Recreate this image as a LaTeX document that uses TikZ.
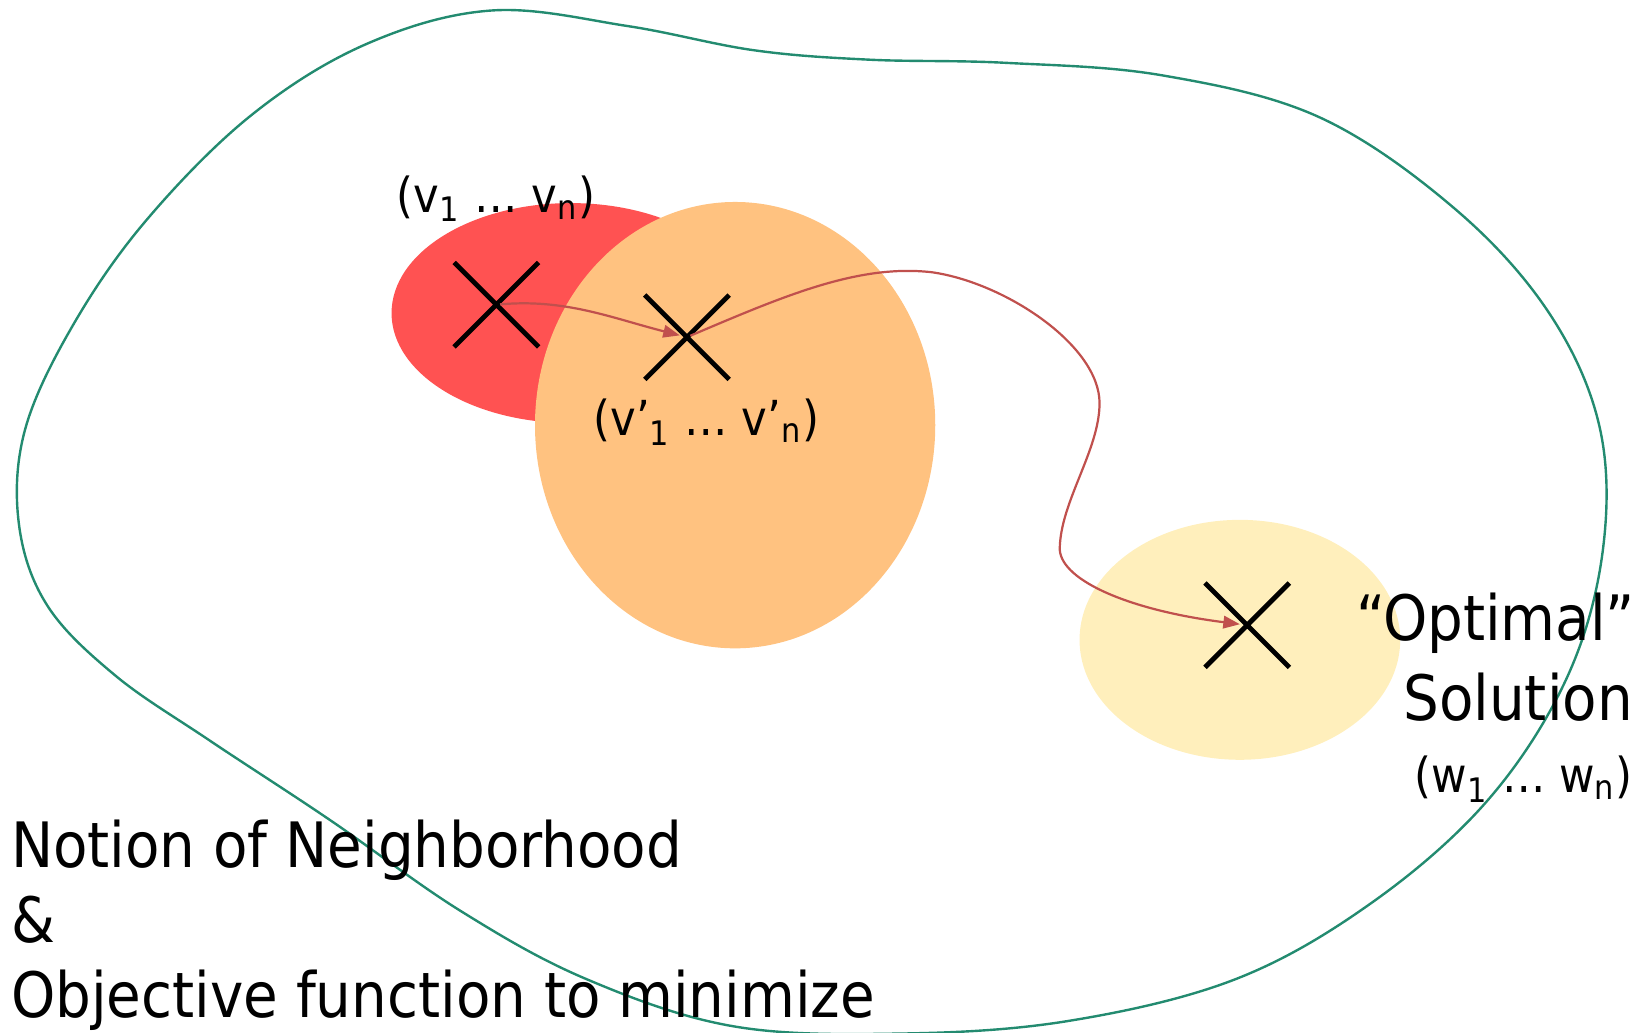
\documentclass[tikz,border=0pt]{standalone}
\usepackage{fontspec}
\setmainfont{DejaVu Sans Condensed}
\usepackage{tikz}
\usetikzlibrary{arrows.meta,shapes.misc}
\definecolor{nbRed}{RGB}{255,82,82}
\definecolor{nbOrange}{RGB}{255,194,128}
\definecolor{nbYellow}{RGB}{255,239,188}
\definecolor{nbGreen}{RGB}{35,139,112}
\definecolor{nbArrow}{RGB}{192,80,77}

\begin{document}
\begin{tikzpicture}[
  x=0.01cm, y=-0.01cm,
  xmark/.style={
    cross out, draw=black, line width=1.3pt,
    minimum size=0.76cm, inner sep=0pt
  },
  arr/.style={
    -{Triangle[length=4.5pt,width=3.4pt]}, draw=nbArrow,
    line width=0.6pt, shorten >=2pt, shorten <=1pt
  },
  smalltxt/.style={inner sep=0pt, font=\fontsize{13.1}{15}\selectfont},
  bigtxt/.style={inner sep=0pt, font=\fontsize{17}{20}\selectfont}
]
\useasboundingbox (0,0) rectangle (1568,986);

% search space
\draw[nbGreen, line width=0.65pt] plot[smooth cycle, tension=0.6] coordinates {
  (470,10) (350,42) (240,110) (140,210) (70,310) (24,410) (18,500)
  (45,578) (110,645) (200,707) (315,783) (440,870) (560,935) (700,980)
  (860,987) (1020,975) (1180,935) (1310,862) (1420,765) (1495,650)
  (1530,530) (1528,410) (1480,300) (1390,200) (1260,112) (1110,72)
  (960,60) (830,57) (720,48) (600,25)};

% neighborhoods
\fill[nbRed] (545,299) ellipse [x radius=1.71cm, y radius=1.05cm];
\fill[nbOrange] (702,406) ellipse [x radius=1.91cm, y radius=2.13cm];
\fill[nbYellow] (1184,611) ellipse [x radius=1.53cm, y radius=1.145cm];

% solutions
\node[xmark] (xa) at (474,291) {};
\node[xmark] (xb) at (656,322) {};
\node[xmark] (xc) at (1191,597) {};

\draw[arr] (xa.center) .. controls (540,285) and (585,304) .. (xb.center);
\draw[arr] (xb.center) .. controls (750,282) and (820,252) .. (890,260)
  .. controls (960,270) and (1050,330) .. (1050,385)
  .. controls (1050,430) and (1012,480) .. (1012,525)
  .. controls (1014,555) and (1080,583) .. (xc.center);

% labels
\node[smalltxt, anchor=base west] (vlab) at (378,203)
  {(v\textsubscript{1} … v\textsubscript{n})};
\node[smalltxt, anchor=base west] (vplab) at (566,416)
  {(v’\textsubscript{1} … v’\textsubscript{n})};
\node[bigtxt, anchor=base east] (optlab) at (1562,612) {“Optimal”};
\node[bigtxt, anchor=base east] (sollab) at (1560,688) {Solution};
\node[smalltxt, anchor=base east] (wlab) at (1560,757)
  {(w\textsubscript{1} … w\textsubscript{n})};

\node[bigtxt, anchor=base west] (notion) at (10,828) {Notion of Neighborhood};
\node[bigtxt, anchor=base west] (amp) at (10,900) {\&};
\node[bigtxt, anchor=base west] (objective) at (10,972) {Objective function to minimize};

\end{tikzpicture}
\end{document}
